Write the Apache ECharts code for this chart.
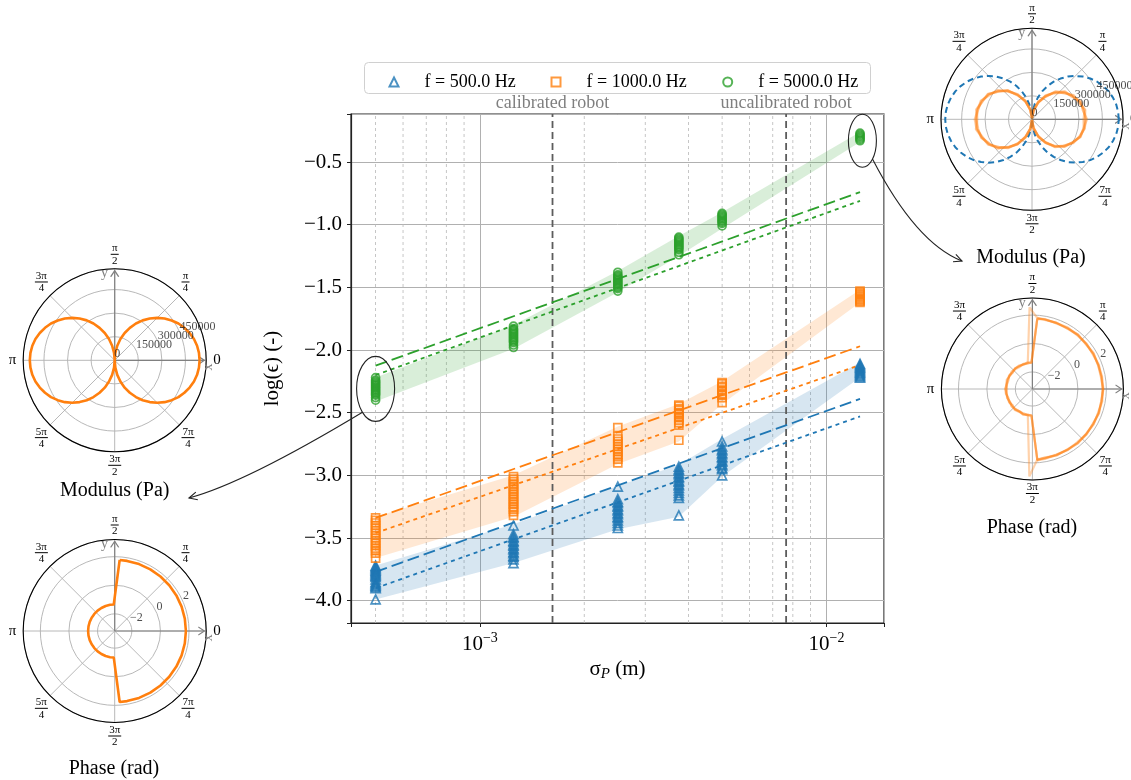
<!DOCTYPE html>
<html><head><meta charset="utf-8">
<script src="https://cdn.jsdelivr.net/npm/echarts@6/dist/echarts.min.js"></script>
<style>html,body{margin:0;padding:0;background:#fff}#c{width:1131px;height:780px}</style>
</head><body><div id="c"></div>
<script>
const FONT = 'Liberation Serif, DejaVu Serif, serif';

// ---------------- main chart data ----------------
const sigmaP = [0.0005, 0.00125, 0.0025, 0.00375, 0.005, 0.0125];
const seriesNames = ['f = 500.0 Hz', 'f = 1000.0 Hz', 'f = 5000.0 Hz'];

const eps500 = [
  [-3.72,-3.73,-3.74,-3.75,-3.76,-3.77,-3.78,-3.79,-3.80,-3.81,-3.83,-3.85,-3.86,-3.87,-3.88,-3.89,-3.90,-3.99],
  [-3.40,-3.47,-3.49,-3.50,-3.52,-3.53,-3.55,-3.56,-3.58,-3.59,-3.61,-3.62,-3.64,-3.65,-3.67,-3.70],
  [-3.09,-3.19,-3.21,-3.22,-3.24,-3.25,-3.27,-3.28,-3.30,-3.31,-3.33,-3.34,-3.36,-3.38,-3.40,-3.42],
  [-2.93,-2.95,-2.96,-2.98,-2.99,-3.01,-3.02,-3.04,-3.05,-3.07,-3.08,-3.10,-3.12,-3.14,-3.16,-3.18,-3.32],
  [-2.73,-2.77,-2.79,-2.80,-2.82,-2.83,-2.85,-2.86,-2.88,-2.89,-2.91,-2.92,-2.94,-2.95,-3.00],
  [-2.11,-2.12,-2.13,-2.14,-2.15,-2.16,-2.17,-2.18,-2.19,-2.20,-2.21,-2.22]
];
const eps1000 = [
  [-3.34,-3.36,-3.38,-3.40,-3.42,-3.44,-3.46,-3.48,-3.50,-3.52,-3.54,-3.56,-3.58,-3.60,-3.62,-3.66],
  [-3.01,-3.03,-3.05,-3.07,-3.09,-3.11,-3.13,-3.15,-3.17,-3.19,-3.21,-3.23,-3.25,-3.27,-3.29,-3.32],
  [-2.62,-2.69,-2.71,-2.73,-2.75,-2.77,-2.79,-2.81,-2.83,-2.85,-2.87,-2.90],
  [-2.44,-2.45,-2.47,-2.48,-2.50,-2.51,-2.53,-2.54,-2.56,-2.58,-2.60,-2.72],
  [-2.26,-2.27,-2.29,-2.30,-2.32,-2.33,-2.35,-2.36,-2.38,-2.42],
  [-1.53,-1.54,-1.55,-1.56,-1.57,-1.58,-1.59,-1.60,-1.61,-1.62]
];
const eps5000 = [
  [-2.22,-2.24,-2.25,-2.26,-2.27,-2.28,-2.29,-2.30,-2.31,-2.32,-2.33,-2.34,-2.35,-2.36,-2.38,-2.40],
  [-1.81,-1.83,-1.84,-1.85,-1.86,-1.87,-1.88,-1.89,-1.90,-1.91,-1.92,-1.93,-1.94,-1.96,-1.98],
  [-1.38,-1.40,-1.41,-1.42,-1.43,-1.44,-1.45,-1.46,-1.47,-1.48,-1.49,-1.50,-1.51,-1.53],
  [-1.10,-1.11,-1.12,-1.13,-1.14,-1.15,-1.16,-1.17,-1.18,-1.19,-1.20,-1.22,-1.24],
  [-0.91,-0.92,-0.93,-0.94,-0.95,-0.96,-0.97,-0.98,-0.99,-1.01],
  [-0.27,-0.28,-0.29,-0.30,-0.31,-0.32,-0.33]
];
const band500Upper  = [-3.72, -3.39, -3.085, -2.915, -2.71, -2.10];
const band500Lower  = [-3.99, -3.70, -3.43, -3.33, -3.01, -2.22];
const band1000Upper = [-3.33, -3.00, -2.61, -2.43, -2.25, -1.52];
const band1000Lower = [-3.66, -3.33, -2.91, -2.73, -2.43, -1.62];
const band5000Upper = [-2.22, -1.80, -1.37, -1.09, -0.90, -0.26];
const band5000Lower = [-2.41, -1.99, -1.54, -1.25, -1.03, -0.34];

const fitX = [0.0005, 0.0125];
const fitDashed500 = [-3.77, -2.39];
const fitDotted500 = [-3.90, -2.53];
const fitDashed1000 = [-3.34, -1.97];
const fitDotted1000 = [-3.46, -2.12];
const fitDashed5000 = [-2.125, -0.74];
const fitDotted5000 = [-2.20, -0.81];

const minorGridX = [0.0005, 0.0006, 0.0007, 0.0008, 0.0009, 0.002, 0.003, 0.004, 0.005, 0.006, 0.007, 0.008, 0.009];
const robotX = [0.00162, 0.00765];
const robotLabels = ['calibrated robot', 'uncalibrated robot'];
const xMin = 4.246e-4, xMax = 0.01466, yMin = -4.178, yMax = -0.117;

// annotation anchors (data units)
const ellipseLeft = [0.0005, -2.31];
const ellipseRight = [0.0127, -0.33];

// ---------------- polar subplot data ----------------
const modAngle = [0,5,10,15,20,25,30,35,40,45,50,55,60,65,70,75,80,85,90,95,100,105,110,115,120,125,130,135,140,145,150,155,160,165,170,175,180,185,190,195,200,205,210,215,220,225,230,235,240,245,250,255,260,265,270,275,280,285,290,295,300,305,310,315,320,325,330,335,340,345,350,355,360];
const modLeftR = [540000,538000,532000,522000,507000,489000,468000,442000,414000,382000,347000,310000,270000,228000,185000,140000,94000,47000,0,
  47000,94000,140000,185000,228000,270000,310000,347000,382000,414000,442000,468000,489000,507000,522000,532000,538000,540000,
  538000,532000,522000,507000,489000,468000,442000,414000,382000,347000,310000,270000,228000,185000,140000,94000,47000,0,
  47000,94000,140000,185000,228000,270000,310000,347000,382000,414000,442000,468000,489000,507000,522000,532000,538000,540000];
const modRightModel = [555000,553000,547000,536000,522000,503000,481000,455000,425000,392000,357000,318000,278000,235000,190000,144000,96000,48000,0,
  48000,96000,144000,190000,235000,278000,318000,357000,392000,425000,455000,481000,503000,522000,536000,547000,553000,555000,
  553000,547000,536000,522000,503000,481000,455000,425000,392000,357000,318000,278000,235000,190000,144000,96000,48000,0,
  48000,96000,144000,190000,235000,278000,318000,357000,392000,425000,455000,481000,503000,522000,536000,547000,553000,555000];
const modMeasAngle = [0,10,20,30,40,50,60,70,80,90,100,110,120,130,140,150,160,170,180,190,200,210,220,230,240,250,260,270,280,290,300,310,320,330,340,350,360];
const modRightMeas1 = [345000,334000,330000,296000,272000,220000,176000,110000,62000,8000,60000,126000,176000,240000,278000,322000,338000,362000,355000,350000,346000,312000,286000,232000,184000,118000,57000,6000,54000,120000,166000,228000,262000,304000,322000,342000,345000];
const modRightMeas2 = [330000,342000,318000,308000,260000,232000,162000,120000,52000,4000,66000,116000,186000,230000,290000,312000,348000,352000,366000,360000,336000,324000,276000,240000,176000,126000,64000,3000,62000,110000,176000,220000,274000,296000,330000,336000,330000];
const modRightMeas3 = [352000,330000,334000,292000,276000,228000,168000,118000,60000,6000,58000,128000,172000,244000,276000,326000,336000,358000,350000,364000,340000,316000,290000,228000,186000,114000,60000,5000,58000,116000,170000,232000,266000,298000,328000,334000,352000];
const modRightMeas4 = [338000,346000,322000,302000,266000,218000,172000,112000,56000,7000,64000,120000,182000,236000,284000,318000,344000,350000,360000,354000,342000,320000,280000,236000,180000,122000,62000,4000,56000,118000,172000,226000,270000,300000,326000,340000,338000];

const phaseAngle = [86,80,70,60,50,40,30,20,10,0,350,340,330,320,310,300,290,280,274,268,260,250,240,230,220,210,200,190,180,170,160,150,140,130,120,110,100,92,86];
const phaseLeftR = [1.78,1.78,1.78,1.78,1.78,1.78,1.78,1.78,1.78,1.78,1.78,1.78,1.78,1.78,1.78,1.78,1.78,1.78,1.78,-1.34,-1.34,-1.34,-1.34,-1.34,-1.34,-1.34,-1.34,-1.34,-1.34,-1.34,-1.34,-1.34,-1.34,-1.34,-1.34,-1.34,-1.34,-1.34,1.78];
const phaseRightMeas1 = [1.82,1.76,1.74,1.79,1.72,1.77,1.70,1.75,1.78,1.73,1.76,1.71,1.78,1.74,1.69,1.76,1.73,1.79,1.84,-1.30,-1.38,-1.32,-1.40,-1.33,-1.29,-1.37,-1.31,-1.36,-1.42,-1.33,-1.28,-1.35,-1.39,-1.30,-1.36,-1.32,-1.38,-1.31,1.82];
const phaseRightMeas2 = [1.76,1.80,1.71,1.75,1.78,1.70,1.76,1.72,1.69,1.77,1.71,1.79,1.72,1.77,1.74,1.70,1.78,1.72,1.80,-1.36,-1.31,-1.39,-1.34,-1.27,-1.38,-1.33,-1.40,-1.30,-1.35,-1.39,-1.32,-1.37,-1.29,-1.36,-1.41,-1.34,-1.29,-1.37,1.76];
const phaseRightMeas3 = [1.79,1.73,1.77,1.70,1.76,1.74,1.79,1.71,1.75,1.80,1.72,1.77,1.70,1.75,1.79,1.72,1.76,1.70,1.77,2.95,-1.34,-1.29,-1.37,-1.32,-1.40,-1.31,-1.36,-1.33,-1.28,-1.37,-1.41,-1.30,-1.35,-1.33,-1.29,-1.38,-1.33,2.55,1.79];
const phaseRightMeas4 = [1.74,1.78,1.75,1.72,1.80,1.73,1.74,1.77,1.72,1.76,1.79,1.74,1.75,1.71,1.77,1.75,1.70,1.76,1.78,-1.33,-1.35,-1.30,-1.38,-1.36,-1.31,-1.39,-1.34,-1.37,-1.31,-1.35,-1.36,-1.33,-1.40,-1.31,-1.34,-1.37,-1.35,-1.34,1.74];

const modRTicks = [0, 150000, 300000, 450000];
const phaseRTicks = [-2, 0, 2];
const angleNum = ['0', 'π', 'π', '3π', 'π', '5π', '3π', '7π'];
const angleDen = ['', '4', '2', '4', '', '4', '2', '4'];
const modRange = [0, 582000];
const phaseRange = [-3.2, 3.2];
const rLabelAngle = 22.5;

// ---------------- helpers ----------------
const C = ['#1f77b4', '#ff7f0e', '#2ca02c'];
const BAND = ['rgba(31,119,180,0.18)', 'rgba(255,127,14,0.18)', 'rgba(44,160,44,0.18)'];
const CLEAR = 'rgba(0,0,0,0)';
const zip = (a, b) => a.map((v, i) => [v, b[i]]);
const minus = s => String(s).replace('-', '\u2212');

function fmtY(v) {
  const k = Math.round(v * 2);
  if (Math.abs(v * 2 - k) > 1e-6) return '';
  return minus(v.toFixed(1));
}
function fmtX(v) {
  const e = Math.log10(v), k = Math.round(e);
  if (Math.abs(e - k) > 1e-6) return '';
  return '{b|10}{s|' + minus(k) + '}';
}
function fmtAngle(v) {
  const i = Math.round(v / 45);
  if (i >= 8) return '';
  if (!angleDen[i]) return '{w|' + angleNum[i] + '}';
  const bar = angleNum[i].length > 1 ? 'b2' : 'b1';
  return '{n|' + angleNum[i] + '}\n{' + bar + '|x}\n{d|' + angleDen[i] + '}';
}
const angleRich = {
  w: {fontSize: 15, fontFamily: FONT, color: '#000', align: 'center', padding: [0, 4, 0, 4]},
  n: {fontSize: 11, fontFamily: FONT, color: '#000', align: 'center', lineHeight: 9},
  d: {fontSize: 11, fontFamily: FONT, color: '#000', align: 'center', lineHeight: 10},
  b1: {width: 8, height: 1, backgroundColor: '#000', color: CLEAR, align: 'center', lineHeight: 3, fontSize: 3},
  b2: {width: 13, height: 1, backgroundColor: '#000', color: CLEAR, align: 'center', lineHeight: 3, fontSize: 3}
};

const freqSets = [
  {name: seriesNames[0], eps: eps500, up: band500Upper, lo: band500Lower, dash: fitDashed500, dot: fitDotted500, symbol: 'triangle', size: 9},
  {name: seriesNames[1], eps: eps1000, up: band1000Upper, lo: band1000Lower, dash: fitDashed1000, dot: fitDotted1000, symbol: 'rect', size: 8},
  {name: seriesNames[2], eps: eps5000, up: band5000Upper, lo: band5000Lower, dash: fitDashed5000, dot: fitDotted5000, symbol: 'circle', size: 8}
];

const series = [];
minorGridX.forEach(x => series.push({
  type: 'line', xAxisIndex: 0, yAxisIndex: 0, silent: true, z: 1, symbol: 'none',
  data: [[x, yMin], [x, yMax]], lineStyle: {color: '#b8b8b8', width: 0.8, type: [3, 3]}
}));
robotX.forEach((x, i) => series.push({
  type: 'line', xAxisIndex: 0, yAxisIndex: 0, silent: true, z: 3, clip: false,
  symbol: 'circle', symbolSize: 1, itemStyle: {color: CLEAR},
  lineStyle: {color: '#5c5c5c', width: 1.8, type: [7, 4]},
  data: [[x, yMin], {value: [x, yMax], label: {show: true, position: 'top', distance: 1, formatter: robotLabels[i],
    color: '#7f7f7f', fontSize: 18, fontFamily: FONT}}]
}));
freqSets.forEach((f, k) => {
  series.push({
    type: 'custom', xAxisIndex: 0, yAxisIndex: 0, silent: true, z: 2,
    data: [[sigmaP[0], f.lo[0]]],
    renderItem: (params, api) => {
      const pts = [];
      for (let i = 0; i < sigmaP.length; i++) pts.push(api.coord([sigmaP[i], f.up[i]]));
      for (let i = sigmaP.length - 1; i >= 0; i--) pts.push(api.coord([sigmaP[i], f.lo[i]]));
      return {type: 'polygon', shape: {points: pts}, style: {fill: BAND[k]}};
    }
  });
});
freqSets.forEach((f, k) => {
  series.push({type: 'line', xAxisIndex: 0, yAxisIndex: 0, silent: true, z: 3, symbol: 'none',
    data: zip(fitX, f.dash), lineStyle: {color: C[k], width: 1.8, type: [12, 5]}});
  series.push({type: 'line', xAxisIndex: 0, yAxisIndex: 0, silent: true, z: 3, symbol: 'none',
    data: zip(fitX, f.dot), lineStyle: {color: C[k], width: 1.8, type: [4, 4]}});
});
freqSets.forEach((f, k) => {
  const pts = [];
  f.eps.forEach((col, i) => col.forEach(v => pts.push([sigmaP[i], v])));
  series.push({type: 'scatter', name: f.name, xAxisIndex: 0, yAxisIndex: 0, z: 5,
    symbol: f.symbol, symbolSize: f.size, data: pts,
    itemStyle: {color: 'rgba(255,255,255,0)', borderColor: C[k], borderWidth: 1.7}});
});

// polar subplots
const polarCenters = [[114.7, 360.3], [114.7, 631], [1032, 119.3], [1032.4, 389]];
const polarRadius = [91.5, 91.5, 91, 91];
const polarRanges = [modRange, phaseRange, modRange, phaseRange];
const polarTicks = [modRTicks, phaseRTicks, modRTicks, phaseRTicks];
const arrowTip = [570000, 3.07, 570000, 3.07];

function addArrows(pi) {
  const rmin = polarRanges[pi][0], rt = arrowTip[pi];
  const st = {color: CLEAR, borderColor: '#808080', borderWidth: 1.2};
  const lab = {show: true, color: '#808080', fontSize: 14, fontFamily: FONT};
  series.push({type: 'line', coordinateSystem: 'polar', polarIndex: pi, silent: true, z: 2, symbol: 'none',
    lineStyle: {color: '#808080', width: 1.2}, itemStyle: st,
    data: [{value: [rmin, 0]}, {value: [rt, 0], symbol: 'path://M0,0 L10,5 L0,10', symbolSize: [6, 8], symbolOffset: [-3, 0],
      label: Object.assign({}, lab, {formatter: 'x', position: 'bottom', rotate: 90, distance: 2})}]});
  series.push({type: 'line', coordinateSystem: 'polar', polarIndex: pi, silent: true, z: 2, symbol: 'none',
    lineStyle: {color: '#808080', width: 1.2}, itemStyle: st,
    data: [{value: [rmin, 90]}, {value: [rt, 90], symbol: 'path://M0,10 L5,0 L10,10', symbolSize: [8, 6], symbolOffset: [0, 3],
      label: Object.assign({}, lab, {formatter: 'y', position: 'left', distance: 2})}]});
}
for (let i = 0; i < 4; i++) addArrows(i);

function polarLine(pi, angles, radii, color, width, opacity, dash) {
  series.push({type: 'line', coordinateSystem: 'polar', polarIndex: pi, silent: true, z: 4, symbol: 'none',
    data: zip(radii, angles), lineStyle: {color: color, width: width, opacity: opacity, type: dash || 'solid'}});
}
polarLine(0, modAngle, modLeftR, C[1], 2.6, 1);
polarLine(1, phaseAngle, phaseLeftR, C[1], 2.6, 1);
polarLine(2, modAngle, modRightModel, C[0], 2, 1, [6, 4]);
[modRightMeas1, modRightMeas2, modRightMeas3, modRightMeas4].forEach(r => polarLine(2, modMeasAngle, r, C[1], 2.4, 0.35));
[phaseRightMeas1, phaseRightMeas2, phaseRightMeas3, phaseRightMeas4].forEach(r => polarLine(3, phaseAngle, r, C[1], 2.2, 0.35));

for (let i = 0; i < 4; i++) {
  series.push({type: 'scatter', coordinateSystem: 'polar', polarIndex: i, silent: true, z: 6,
    symbolSize: 1, itemStyle: {color: CLEAR},
    data: polarTicks[i].map(t => [t, rLabelAngle]),
    label: {show: true, position: [0, 0], align: 'left', verticalAlign: 'bottom',
      formatter: p => minus(p.value[0]), fontSize: 12, fontFamily: FONT, color: '#222'}});
}

const option = {
  animation: false,
  backgroundColor: '#fff',
  textStyle: {fontFamily: FONT},
  grid: {left: 351, top: 114, width: 533, height: 509, show: true, borderColor: '#222', borderWidth: 1.2,
    backgroundColor: CLEAR, containLabel: false, outerBoundsMode: 'none'},
  xAxis: {
    type: 'log', logBase: 10, min: xMin, max: xMax,
    axisLine: {show: true, lineStyle: {color: '#222', width: 1.2}},
    axisTick: {show: true, length: 4, lineStyle: {color: '#222'}},
    minorTick: {show: false},
    splitLine: {show: true, lineStyle: {color: '#b0b0b0', width: 1}},
    axisLabel: {formatter: fmtX, margin: 8, color: '#000',
      rich: {b: {fontSize: 21, fontFamily: FONT, color: '#000'},
             s: {fontSize: 14, fontFamily: FONT, color: '#000', padding: [0, 0, 12, 0]}}},
    name: '{a|σ}{s|P}{a| (m)}', nameLocation: 'middle', nameGap: 34,
    nameTextStyle: {rich: {a: {fontSize: 21, fontFamily: FONT, color: '#000'},
      s: {fontSize: 15, fontFamily: FONT, fontStyle: 'italic', color: '#000', padding: [9, 0, 0, 0]}}}
  },
  yAxis: {
    type: 'value', min: yMin, max: yMax, splitNumber: 8,
    axisLine: {show: true, lineStyle: {color: '#222', width: 1.2}},
    axisTick: {show: true, length: 4, lineStyle: {color: '#222'}},
    splitLine: {show: true, lineStyle: {color: '#b0b0b0', width: 1}},
    axisLabel: {formatter: fmtY, fontSize: 21, fontFamily: FONT, color: '#000', margin: 9},
    name: 'log(ϵ) (-)', nameLocation: 'middle', nameGap: 68, nameRotate: 90,
    nameTextStyle: {fontSize: 21, fontFamily: FONT, color: '#000'}
  },
  legend: [0, 1, 2].map(k => ({
    data: [seriesNames[k]], left: [388.5, 550.5, 722.2][k], top: 73, padding: 0,
    itemWidth: 9, itemHeight: 9, selectedMode: false,
    itemStyle: {color: 'rgba(255,255,255,0)', borderColor: C[k], borderWidth: 2},
    textStyle: {fontSize: 18, fontFamily: FONT, color: '#000', padding: [0, 0, 0, 21]}
  })),
  title: [
    {text: 'Modulus (Pa)', left: 114.7, top: 481, textAlign: 'center', padding: 0},
    {text: 'Phase (rad)', left: 114, top: 759, textAlign: 'center', padding: 0},
    {text: 'Modulus (Pa)', left: 1031, top: 248, textAlign: 'center', padding: 0},
    {text: 'Phase (rad)', left: 1032, top: 518, textAlign: 'center', padding: 0}
  ].map(t => Object.assign(t, {textStyle: {fontSize: 20, fontWeight: 'normal', fontFamily: FONT, color: '#000'}})),
  polar: polarCenters.map((c, i) => ({center: c, radius: polarRadius[i]})),
  angleAxis: polarCenters.map((c, i) => ({
    polarIndex: i, type: 'value', min: 0, max: 360, interval: 45, startAngle: 0, clockwise: false,
    axisLine: {show: true, lineStyle: {color: '#000', width: 1.1}},
    axisTick: {show: false},
    splitLine: {show: true, lineStyle: {color: '#b0b0b0', width: 0.9}},
    axisLabel: {show: true, margin: 3, formatter: fmtAngle, rich: angleRich, color: '#000'}
  })),
  radiusAxis: polarCenters.map((c, i) => ({
    polarIndex: i, type: 'value', min: polarRanges[i][0], max: polarRanges[i][1],
    splitNumber: 3, interval: i % 2 === 0 ? 150000 : undefined,
    axisLine: {show: false}, axisTick: {show: false}, axisLabel: {show: false},
    splitLine: {show: true, lineStyle: {color: '#b0b0b0', width: 0.9}}
  })),
  series: series
};

const chart = echarts.init(document.getElementById('c'), null, {renderer: 'canvas', width: 1131, height: 780});
chart.setOption(option);

function arrowGraphic(p0, ctrl, p2) {
  const dx = p2[0] - ctrl[0], dy = p2[1] - ctrl[1], L = Math.hypot(dx, dy);
  const ux = dx / L, uy = dy / L, len = 9, a = 0.45;
  const h1 = [p2[0] - len * (ux * Math.cos(a) - uy * Math.sin(a)), p2[1] - len * (uy * Math.cos(a) + ux * Math.sin(a))];
  const h2 = [p2[0] - len * (ux * Math.cos(a) + uy * Math.sin(a)), p2[1] - len * (uy * Math.cos(a) - ux * Math.sin(a))];
  return [
    {type: 'bezierCurve', shape: {x1: p0[0], y1: p0[1], cpx1: ctrl[0], cpy1: ctrl[1], x2: p2[0], y2: p2[1]},
     style: {stroke: '#222', lineWidth: 1.1, fill: null}, silent: true, z: 100},
    {type: 'polyline', shape: {points: [h1, p2, h2]}, style: {stroke: '#222', lineWidth: 1.1, fill: null}, silent: true, z: 100}
  ];
}
const eL = chart.convertToPixel({gridIndex: 0}, ellipseLeft);
const eR = chart.convertToPixel({gridIndex: 0}, ellipseRight);
const rxL = 19, ryL = 32.5, rxR = 14, ryR = 26.5;
const startL = [eL[0] - rxL * 0.69, eL[1] + ryL * 0.72];
const startR = [eR[0] + rxR * 0.72, eR[1] + ryR * 0.69];
const graphics = [
  {type: 'rect', shape: {x: 364.5, y: 62.5, width: 506, height: 31, r: 4},
   style: {fill: 'rgba(255,255,255,0.8)', stroke: '#d0d0d0', lineWidth: 1}, z: -1, silent: true},
  {type: 'ellipse', shape: {cx: eL[0], cy: eL[1], rx: rxL, ry: ryL}, style: {fill: null, stroke: '#222', lineWidth: 1.1}, silent: true, z: 100},
  {type: 'ellipse', shape: {cx: eR[0], cy: eR[1], rx: rxR, ry: ryR}, style: {fill: null, stroke: '#222', lineWidth: 1.1}, silent: true, z: 100}
].concat(arrowGraphic(startL, [245, 483], [189, 498]))
 .concat(arrowGraphic(startR, [916, 243], [962, 261]));
chart.setOption({graphic: graphics});
</script>
</body></html>
